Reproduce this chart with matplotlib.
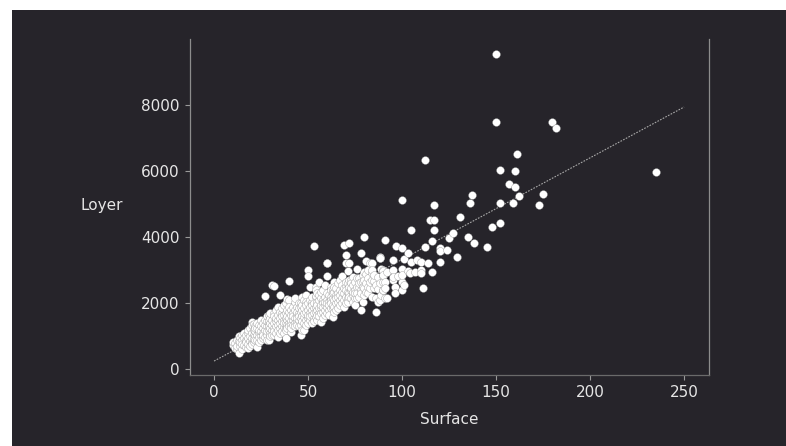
import matplotlib
matplotlib.use("Agg")
import matplotlib.pyplot as plt
from matplotlib.patches import Rectangle

# ---- data (Surface, Loyer) ----
surface = [
    10, 10,
    11, 11,
    12, 12, 12,
    13, 13, 13,
    14, 14, 14,
    15, 15, 15, 15,
    16, 16, 16,
    17, 17, 17, 17,
    18, 18, 18, 18, 18,
    19, 19, 19, 19,
    20, 20, 20, 20, 20, 20,
    21, 21, 21, 21, 21,
    22, 22, 22, 22, 22,
    23, 23, 23, 23, 23,
    24, 24, 24, 24, 24,
    25, 25, 25, 25, 25,
    26, 26, 26, 26, 26,
    27, 27, 27, 27, 27,
    28, 28, 28, 28, 28, 28,
    29, 29, 29, 29, 29, 29,
    30, 30, 30, 30, 30, 30,
    31, 31, 31, 31, 31,
    32, 32, 32, 32, 32, 32, 32,
    33, 33, 33, 33, 33,
    34, 34, 34, 34, 34, 34,
    35, 35, 35, 35, 35, 35,
    36, 36, 36, 36, 36, 36,
    37, 37, 37, 37, 37, 37,
    38, 38, 38, 38, 38, 38, 38,
    39, 39, 39, 39, 39, 39,
    40, 40, 40, 40, 40, 40, 40,
    41, 41, 41, 41, 41, 41,
    42, 42, 42, 42, 42,
    43, 43, 43, 43, 43, 43,
    44, 44, 44, 44, 44, 44,
    45, 45, 45, 45, 45, 45,
    46, 46, 46, 46, 46, 46,
    47, 47, 47, 47, 47, 47,
    48, 48, 48, 48, 48, 48,
    49, 49, 49, 49, 49, 49,
    50, 50, 50, 50, 50, 50, 50,
    51, 51, 51, 51, 51, 51,
    52, 52, 52, 52, 52, 52,
    53, 53, 53, 53, 53, 53,
    54, 54, 54, 54, 54, 54, 54,
    55, 55, 55, 55, 55, 55,
    56, 56, 56, 56, 56, 56,
    57, 57, 57, 57, 57, 57,
    58, 58, 58, 58, 58, 58,
    59, 59, 59, 59, 59, 59,
    60, 60, 60, 60, 60, 60, 60, 60,
    61, 61, 61, 61, 61,
    62, 62, 62, 62, 62, 62,
    63, 63, 63, 63, 63, 63,
    64, 64, 64, 64, 64, 64,
    65, 65, 65, 65, 65,
    66, 66, 66, 66, 66,
    67, 67, 67, 67, 67,
    68, 68, 68, 68, 68,
    69, 69, 69, 69, 69,
    70, 70, 70, 70, 70, 70, 70,
    71, 71, 71, 71, 71,
    72, 72, 72, 72, 72, 72,
    73, 73, 73, 73, 73,
    74, 74, 74, 74, 74,
    75, 75, 75, 75, 75,
    76, 76, 76, 76, 76,
    77, 77, 77, 77,
    78, 78, 78, 78, 78,
    79, 79, 79, 79,
    80, 80, 80, 80, 80,
    81, 81, 81, 81,
    82, 82, 82, 82,
    83, 83, 83,
    84, 84, 84, 84, 84,
    85, 85, 85,
    86, 86, 86,
    87, 87, 87,
    88, 88, 88, 88, 88,
    89, 89,
    90, 90, 90, 90, 90, 90, 90,
    91, 91, 91, 91,
    92, 92,
    95, 95, 95, 95,
    96, 96,
    97,
    98,
    100, 100, 100, 100, 100, 100,
    101, 101,
    103, 103,
    104,
    105, 105,
    107,
    108,
    110, 110, 110,
    111,
    112, 112,
    114,
    115,
    116, 116,
    117, 117, 117,
    120, 120, 120,
    124,
    125,
    127,
    129,
    131,
    135,
    136,
    137,
    138,
    145,
    148,
    150, 150,
    152, 152, 152,
    157,
    159,
    160, 160,
    161,
    162,
    173,
    175,
    180,
    182,
    235,
]

loyer = [
    750, 820,
    790, 650,
    600, 900, 720,
    480, 850, 1000,
    700, 950, 820,
    1040, 600, 880, 760,
    740, 1100, 950,
    680, 900, 1050, 820,
    1090, 640, 960, 1180, 780,
    850, 1000, 1250, 720,
    1440, 1340, 840, 1100, 950, 780,
    830, 1200, 1050, 920, 1380,
    1000, 1150, 880, 1300, 1250,
    1240, 690, 1040, 900, 1400,
    840, 1100, 1350, 980, 1200,
    1495, 1000, 1150, 1300, 880,
    950, 1250, 1100, 1400, 1050,
    2220, 990, 1200, 1350, 1500,
    1050, 1300, 1150, 1450, 1600, 900,
    1645, 1395, 1190, 890, 1300, 1500,
    1100, 1250, 1400, 1550, 1000, 1700,
    2555, 1200, 1350, 1050, 1500,
    2525, 1700, 1240, 1040, 1400, 1600, 1150,
    1300, 1450, 1550, 1100, 1800,
    1895, 1495, 990, 1350, 1650, 1200,
    2250, 1250, 1400, 1550, 1750, 1100,
    1700, 1300, 1450, 1600, 1850, 1150,
    1090, 1290, 1500, 1650, 1400, 1950,
    2000, 1290, 1200, 1550, 1700, 1400, 940,
    2120, 1495, 1350, 1600, 1800, 1250,
    2675, 2100, 1400, 1550, 1750, 1900, 1300,
    1795, 1140, 1450, 1650, 1350, 1250,
    1500, 1700, 1900, 1350, 1600,
    2050, 2150, 1545, 1400, 1800, 1300,
    1650, 1450, 1900, 1750, 1350, 1550,
    2000, 1500, 1700, 1850, 1300, 1600,
    1745, 1340, 2000, 1040, 1550, 1900,
    2200, 1190, 1600, 1800, 1450, 1950,
    1595, 1195, 1700, 1400, 2100, 1850,
    2250, 2050, 1500, 1750, 1350, 1950,
    3010, 2830, 1550, 1800, 2000, 1650, 1400,
    2485, 1700, 1900, 1500, 2100, 1600,
    2050, 1795, 1395, 1650, 1950, 2200,
    3725, 1550, 1850, 2000, 1700, 1450,
    2200, 2220, 2500, 2400, 1595, 1750, 1900,
    1800, 1500, 2050, 1650, 2300, 1950,
    2655, 1700, 1850, 2100, 1600, 2250,
    2150, 1850, 1440, 1950, 1700, 2350,
    2100, 1750, 1550, 2000, 1900, 2400,
    2555, 1645, 1800, 2200, 1950, 2050,
    3230, 3210, 2830, 1700, 1900, 2100, 2300, 2000,
    1800, 2050, 2250, 1950, 1650,
    2485, 2200, 2100, 1850, 2000, 2400,
    1850, 2400, 1595, 2150, 1950, 2300,
    2655, 2350, 1900, 2100, 2500, 1750,
    2000, 2250, 1800, 2450, 2150,
    2050, 2300, 2600, 1850, 2200,
    2100, 2400, 1950, 2250, 2700,
    2830, 2150, 2350, 2000, 2550,
    3765, 2300, 2450, 2100, 1900,
    3460, 3230, 2525, 2200, 2400, 2650, 2000,
    2990, 2350, 2150, 2600, 2050,
    3820, 3210, 2300, 2500, 2200, 2700,
    2705, 2400, 2600, 2150, 2450,
    2250, 2550, 2350, 2800, 2050,
    2150, 2400, 2650, 2300, 1950,
    3030, 2150, 2500, 2750, 2300,
    2760, 2485, 2200, 2600,
    3515, 1795, 2400, 2650, 2300,
    2655, 2050, 2500, 2850,
    4020, 2960, 2450, 2250, 2700,
    2350, 3290, 2600, 2900,
    3010, 2500, 2750, 2300,
    3230, 2450, 2650,
    2200, 2930, 3210, 2700, 3010,
    2675, 2860, 2455,
    2555, 1745, 2150,
    2805, 2050, 2425,
    3360, 3395, 2605, 2100, 3370,
    3030, 2250,
    3010, 2990, 2830, 2400, 2655, 2405, 2860,
    3920, 2655, 2150, 2455,
    2150, 2960,
    3310, 3010, 2705, 2805,
    2505, 2300,
    3730,
    2830,
    5120, 3675, 3030, 2655, 2860, 2400,
    2555, 3330,
    3515, 2990,
    2910,
    4220, 3260,
    2960,
    3310,
    3240, 3010, 2910,
    2450,
    3700, 6340,
    3230,
    4520,
    3870, 2940,
    4960, 4520, 4210,
    3670, 3585, 3260,
    3625,
    3970,
    4120,
    3400,
    4615,
    4020,
    5020,
    5270,
    3820,
    3715,
    4320,
    9550, 7500,
    6020, 5020, 4420,
    5620,
    5020,
    5990, 5510,
    6530,
    5260,
    4960,
    5320,
    7480,
    7300,
    5975,
]

# regression line end points
fit_x = [0, 250]
fit_y = [250, 7940]

x_ticks = [0, 50, 100, 150, 200, 250]
y_ticks = [0, 2000, 4000, 6000, 8000]

assert len(surface) == len(loyer)

bg = "#26242a"
txt = "#e6e6e6"

fig = plt.figure(figsize=(7.86, 4.46), dpi=100, facecolor="white")
fig.patches.append(Rectangle((12 / 786, 0), 1 - 12 / 786, 1 - 10 / 446,
                             transform=fig.transFigure, facecolor=bg,
                             edgecolor="none", zorder=-10))

ax = fig.add_axes([190 / 786, 71 / 446, 518.7 / 786, 335.7 / 446])
ax.set_facecolor(bg)

ax.plot(fit_x, fit_y, color="#a8a8a8", lw=0.8, linestyle=(0, (1.5, 1.2)), zorder=1)
ax.scatter(surface, loyer, s=32, facecolor="white", edgecolor="#8a8a8a",
           linewidths=0.25, zorder=2)

ax.set_xlim(-12.8, 263.1)
ax.set_ylim(-172, 9990)
ax.set_xticks(x_ticks)
ax.set_yticks(y_ticks)

for side in ["left", "right"]:
    ax.spines[side].set_color("#8c8c8c")
    ax.spines[side].set_linewidth(0.9)
ax.spines["bottom"].set_color("#6a6a6a")
ax.spines["bottom"].set_linewidth(0.9)
ax.spines["top"].set_visible(False)

ax.tick_params(axis="both", colors="#9a9a9a", labelcolor=txt, labelsize=11,
               length=3.5, width=0.8, pad=4)
ax.tick_params(axis="y", right=False)

ax.set_xlabel("Surface", color=txt, fontsize=11)
ax.set_ylabel("Loyer", color=txt, fontsize=11, rotation=0, ha="center", va="center")
ax.xaxis.set_label_coords(0.5, -(420 - 375) / 335.7)
ax.yaxis.set_label_coords((102 - 190) / 518.7, 0.5 - (205 - 207) / 335.7)
ax.xaxis.label.set_va("center")

fig.savefig("out.png", dpi=100, facecolor=fig.get_facecolor())
